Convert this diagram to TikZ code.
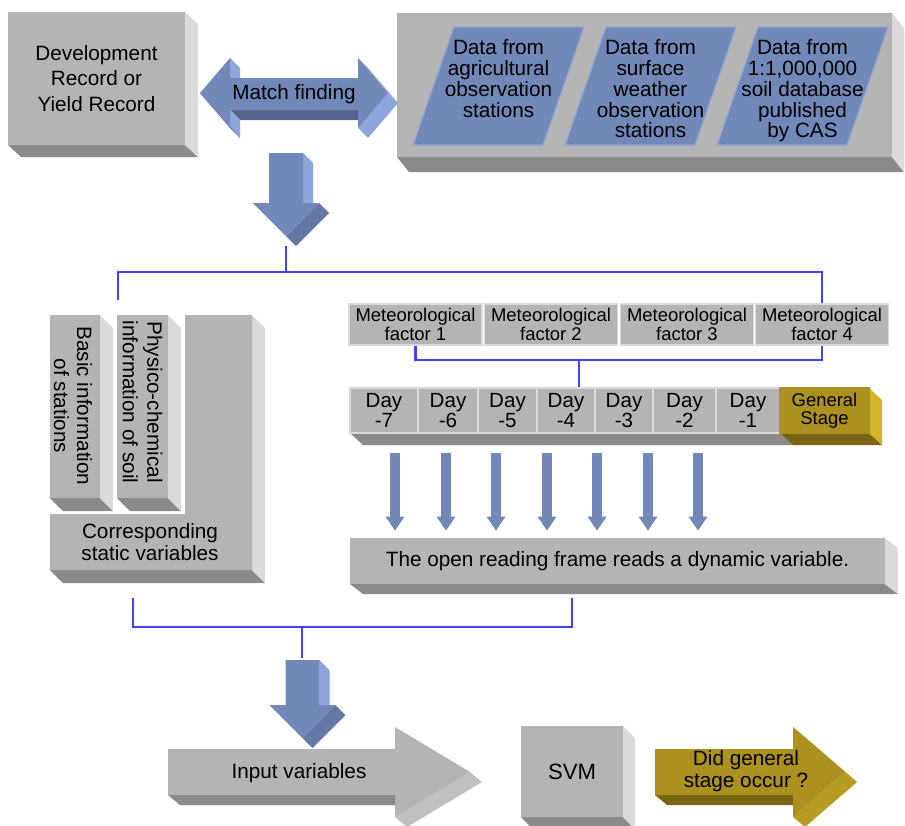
\documentclass[tikz,border=0pt]{standalone}
\usepackage{fontspec}
\setmainfont{Liberation Sans}
\usetikzlibrary{arrows.meta, calc}

\definecolor{boxfront}{RGB}{180, 180, 180}
\definecolor{boxside}{RGB}{218, 218, 218}
\definecolor{boxdark}{RGB}{138, 138, 138}
\definecolor{arrowfront}{RGB}{114, 136, 184}
\definecolor{arrowside}{RGB}{142, 166, 219}
\definecolor{arrowmid}{RGB}{100, 120, 165}
\definecolor{arrowdark}{RGB}{84, 101, 140}
\definecolor{goldfront}{RGB}{171, 145, 31}
\definecolor{goldside}{RGB}{212, 180, 40}
\definecolor{golddark}{RGB}{122, 101, 20}
\definecolor{linkblue}{RGB}{64, 64, 255}

% box with a right face and a bottom face
\newcommand{\slab}[7][box]{%
  \fill[#1dark] (#2,#5) -- (#4,#5) -- ({#4+#6},{#5+#7}) -- ({#2+#6},{#5+#7}) -- cycle;
  \fill[#1side] (#4,#3) -- ({#4+#6},{#3+#7}) -- ({#4+#6},{#5+#7}) -- (#4,#5) -- cycle;
  \fill[#1front] (#2,#3) rectangle (#4,#5);
}
% thick down arrow, shaft top centre and shaft length
\newcommand{\blockdown}[3]{%
  \begin{scope}[shift={(#1,#2)}]
    \fill[arrowside] (17,0) -- (27,10) -- (27,{#3+10}) -- (17,#3) -- cycle;
    \fill[arrowmid] (33,#3) -- (43,{#3+10}) -- (10,{#3+43}) -- (0,{#3+33}) -- cycle;
    \fill[arrowfront] (-17,0) -- (17,0) -- (17,#3) -- (33,#3) -- (0,{#3+33}) -- (-33,#3) -- (-17,#3) -- cycle;
  \end{scope}}

\tikzset{
  txt/.style={font=\fontsize{11.8}{#1}\selectfont, align=center, inner sep=0pt},
  txt/.default=13.5,
  factor/.style={fill=boxfront, draw=boxside, line width=1pt, minimum width=2.66cm,
    minimum height=0.82cm, inner sep=0pt, align=center, font=\fontsize{10.5}{10.4}\selectfont},
  daycell/.style={fill=boxfront, draw=boxside, line width=0.6pt, minimum height=0.9cm,
    inner sep=0pt, align=center, font=\fontsize{11.7}{11.3}\selectfont},
  link/.style={draw=linkblue, line width=1.2pt},
  feed/.style={draw=arrowfront, line width=0.2cm, -{Triangle[width=0.36cm, length=0.28cm]}, shorten >=0.14cm}
}

\begin{document}
\begin{tikzpicture}[x=0.02cm, y=-0.02cm]
  \useasboundingbox (0,0) rectangle (905,825);

  % Record box
  \slab{8}{12}{185}{145}{13}{12}
  \node[txt=14.5, minimum width=3.54cm, minimum height=2.66cm] (record) at (96.5,78.5) {Development\\Record or\\Yield Record};

  % Match finding
  \fill[arrowdark] (230,110) -- (358,110) -- (368,120) -- (240,120) -- cycle;
  \fill[arrowside] (230,58) -- (240,68) -- (240,78) -- (230,78) -- cycle;
  \fill[arrowside] (230,110) -- (240,120) -- (240,138) -- (230,128) -- cycle;
  \fill[arrowmid] (200,93) -- (230,128) -- (240,138) -- (210,103) -- cycle;
  \fill[arrowside] (358,58) -- (368,68) -- (398,103) -- (388,93) -- cycle;
  \fill[arrowside] (388,93) -- (398,103) -- (368,138) -- (358,128) -- cycle;
  \fill[arrowfront] (200,93) -- (230,58) -- (230,78) -- (358,78) -- (358,58) -- (388,93)
    -- (358,128) -- (358,110) -- (230,110) -- (230,128) -- cycle;
  \node[txt] (match) at (294,94) {Match finding};

  % Data sources
  \slab{397}{13}{892}{157}{12}{15}
  \foreach \i in {0,1,2}
    \filldraw[fill=arrowfront, draw=arrowside, line width=0.6pt]
      ({413+152*\i},145) -- ({454+152*\i},27) -- ({584+152*\i},27) -- ({543+152*\i},145) -- cycle;
  \node[txt=11.9, anchor=north] (agri) at (498.5,39) {Data from\\agricultural\\observation\\stations};
  \node[txt=11.9, anchor=north] (surf) at (650.5,39) {Data from\\surface\\weather\\observation\\stations};
  \node[txt=11.9, anchor=north] (soil) at (802.5,39) {Data from\\1:1,000,000\\soil database\\published\\by CAS};

  % Down arrow after matching
  \blockdown{286}{153}{50}
  \coordinate (arrowA) at (286,246);

  % Static variables
  \fill[boxdark] (50,570) -- (252,570) -- (265,583) -- (63,583) -- cycle;
  \fill[boxside] (252,315) -- (265,328) -- (265,583) -- (252,570) -- cycle;
  \fill[boxfront] (185,315) -- (252,315) -- (252,570) -- (50,570) -- (50,514) -- (185,514) -- cycle;
  \slab{50}{315}{100}{498}{13}{13}
  \slab{117}{315}{168}{498}{13}{13}
  \node[txt=13, rotate=-90] (basic) at (73,406) {Basic information\\of stations};
  \node[txt=14, rotate=-90] (physico) at (142.5,402) {Physico-chemical\\information of soil};
  \node[txt=13] (static) at (150,542) {Corresponding\\static variables};
  \coordinate (staticin) at (118,300);
  \coordinate (staticout) at (133,598);

  % Meteorological factors
  \node[factor] (factor1) at (415.5,324.5) {Meteorological\\factor 1};
  \node[factor] (factor2) at (551,324.5) {Meteorological\\factor 2};
  \node[factor] (factor3) at (687,324.5) {Meteorological\\factor 3};
  \node[factor] (factor4) at (822,324.5) {Meteorological\\factor 4};

  % Day row
  \fill[boxdark] (350,433) -- (780,433) -- (793,445) -- (363,445) -- cycle;
  \fill[golddark] (780,433) -- (869,433) -- (882,445) -- (793,445) -- cycle;
  \fill[goldside] (869,388) -- (882,400) -- (882,445) -- (869,433) -- cycle;
  \foreach \a/\b/\d in {350/418/7, 418/478/6, 478/537/5, 537/595/4, 595/653/3, 653/716/2, 716/780/1}
    \node[daycell, minimum width={(\b-\a)*0.02cm}] (day\d) at ({(\a+\b)/2},410.5) {Day\\-\d};
  \node[daycell, fill=goldfront, draw=goldfront, minimum width=1.78cm,
    font=\fontsize{10.5}{10.4}\selectfont] (general) at (824.5,410.5) {General\\Stage};

  % Reading frame
  \slab{350}{538}{885}{584}{13}{10}
  \node[txt, minimum width=10.7cm, minimum height=0.92cm] (orf) at (617.5,561) {The open reading frame reads a dynamic variable.};
  \coordinate (orfout) at (572,598);
  \foreach \i/\x in {1/395, 2/446, 3/496, 4/547, 5/597, 6/648, 7/698} {
    \coordinate (feed\i) at (\x,453);
    \draw[feed] (feed\i) -- (feed\i |- orf.north);
  }

  % Connectors
  \coordinate (forkA) at (286,272);
  \draw[link] (arrowA) -- (forkA);
  \draw[link] (staticin) |- (forkA) -| (factor4.north);
  \coordinate (forkB) at (579,360);
  \draw[link] (factor1.south) |- (forkB) -| (factor4.south);
  \draw[link] (forkB) -- (forkB |- day4.north);
  \coordinate (forkC) at (302,627);
  \coordinate (arrowB) at (302,658);
  \draw[link] (staticout) |- (forkC) -| (orfout);
  \draw[link] (forkC) -- (arrowB);

  % Down arrow to inputs
  \blockdown{302.5}{660}{45}

  % Input variables
  \fill[boxdark] (168,795) -- (395,795) -- (407,805) -- (180,805) -- cycle;
  \fill[boxfront!70!boxside] (470,772) -- (482,782) -- (407,827) -- (395,817) -- cycle;
  \fill[boxfront] (168,749) -- (395,749) -- (395,727) -- (470,772) -- (395,817) -- (395,795) -- (168,795) -- cycle;
  \node[txt] (input) at (299,773) {Input variables};

  % SVM
  \slab{521}{726}{623}{817}{12}{12}
  \node[txt, font=\fontsize{12.6}{14}\selectfont] (svm) at (572,771.5) {SVM};

  % Result
  \fill[golddark] (655,795) -- (793,795) -- (805,805) -- (667,805) -- cycle;
  \fill[goldfront!70!goldside] (793,727) -- (805,737) -- (857,782) -- (845,772) -- cycle;
  \fill[goldfront!70!goldside] (845,772) -- (857,782) -- (805,827) -- (793,817) -- cycle;
  \fill[goldfront] (655,749) -- (793,749) -- (793,727) -- (845,772) -- (793,817) -- (793,795) -- (655,795) -- cycle;
  \node[txt=12.5] (occur) at (746,771) {Did general\\stage occur ?};
\end{tikzpicture}
\end{document}
